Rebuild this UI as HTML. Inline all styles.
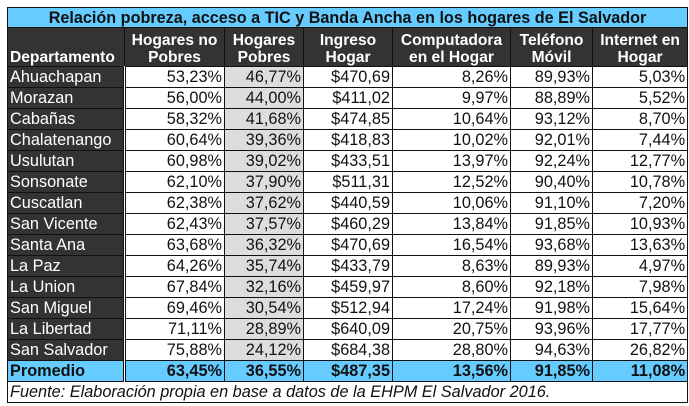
<!DOCTYPE html>
<html><head><meta charset="utf-8"><style>
body{margin:0;width:689px;height:406px;background:#fff;overflow:hidden;font-family:"Liberation Sans",sans-serif;}
table{position:absolute;left:7px;top:7px;border-collapse:collapse;table-layout:fixed;width:680px;font-size:16.3px;}
td,th{border:1px solid #111;padding:0 2px;height:20px;line-height:19px;white-space:nowrap;overflow:hidden;}
.title th{background:#66ccff;color:#111;font-size:16.2px;height:19px;line-height:18px;}
.hdr th{background:#333;color:#fff;height:38px;line-height:17px;vertical-align:bottom;font-size:15.6px;}
.hdr th.dep{text-align:left;padding-left:2px;}
td{text-align:right;background:#fff;color:#111;}
td.dep{background:#333;color:#fff;text-align:left;padding-left:2px;border-right:3px double #111;}
td.g{background:#ddd;}
.avg td{background:#66ccff;font-weight:bold;}
.avg td.dep{background:#66ccff;color:#111;}
.note td{text-align:left;font-style:italic;padding-left:2px;}
</style></head><body>
<table>
<colgroup><col style="width:117px"><col style="width:100px"><col style="width:79px"><col style="width:89px"><col style="width:118px"><col style="width:82px"><col style="width:95px"></colgroup>
<tr class="title"><th colspan="7">Relación pobreza, acceso a TIC y Banda Ancha en los hogares de El Salvador</th></tr>
<tr class="hdr">
<th class="dep">Departamento</th>
<th>Hogares no<br>Pobres</th>
<th>Hogares<br>Pobres</th>
<th>Ingreso<br>Hogar</th>
<th>Computadora<br>en el Hogar</th>
<th>Teléfono<br>Móvil</th>
<th>Internet en<br>Hogar</th>
</tr>
<tr><td class="dep">Ahuachapan</td><td>53,23%</td><td class="g">46,77%</td><td>$470,69</td><td>8,26%</td><td>89,93%</td><td>5,03%</td></tr>
<tr><td class="dep">Morazan</td><td>56,00%</td><td class="g">44,00%</td><td>$411,02</td><td>9,97%</td><td>88,89%</td><td>5,52%</td></tr>
<tr><td class="dep">Cabañas</td><td>58,32%</td><td class="g">41,68%</td><td>$474,85</td><td>10,64%</td><td>93,12%</td><td>8,70%</td></tr>
<tr><td class="dep">Chalatenango</td><td>60,64%</td><td class="g">39,36%</td><td>$418,83</td><td>10,02%</td><td>92,01%</td><td>7,44%</td></tr>
<tr><td class="dep">Usulutan</td><td>60,98%</td><td class="g">39,02%</td><td>$433,51</td><td>13,97%</td><td>92,24%</td><td>12,77%</td></tr>
<tr><td class="dep">Sonsonate</td><td>62,10%</td><td class="g">37,90%</td><td>$511,31</td><td>12,52%</td><td>90,40%</td><td>10,78%</td></tr>
<tr><td class="dep">Cuscatlan</td><td>62,38%</td><td class="g">37,62%</td><td>$440,59</td><td>10,06%</td><td>91,10%</td><td>7,20%</td></tr>
<tr><td class="dep">San Vicente</td><td>62,43%</td><td class="g">37,57%</td><td>$460,29</td><td>13,84%</td><td>91,85%</td><td>10,93%</td></tr>
<tr><td class="dep">Santa Ana</td><td>63,68%</td><td class="g">36,32%</td><td>$470,69</td><td>16,54%</td><td>93,68%</td><td>13,63%</td></tr>
<tr><td class="dep">La Paz</td><td>64,26%</td><td class="g">35,74%</td><td>$433,79</td><td>8,63%</td><td>89,93%</td><td>4,97%</td></tr>
<tr><td class="dep">La Union</td><td>67,84%</td><td class="g">32,16%</td><td>$459,97</td><td>8,60%</td><td>92,18%</td><td>7,98%</td></tr>
<tr><td class="dep">San Miguel</td><td>69,46%</td><td class="g">30,54%</td><td>$512,94</td><td>17,24%</td><td>91,98%</td><td>15,64%</td></tr>
<tr><td class="dep">La Libertad</td><td>71,11%</td><td class="g">28,89%</td><td>$640,09</td><td>20,75%</td><td>93,96%</td><td>17,77%</td></tr>
<tr><td class="dep">San Salvador</td><td>75,88%</td><td class="g">24,12%</td><td>$684,38</td><td>28,80%</td><td>94,63%</td><td>26,82%</td></tr>
<tr class="avg"><td class="dep">Promedio</td><td>63,45%</td><td>36,55%</td><td>$487,35</td><td>13,56%</td><td>91,85%</td><td>11,08%</td></tr>
<tr class="note"><td colspan="7">Fuente: Elaboración propia en base a datos de la EHPM El Salvador 2016.</td></tr>
</table>
</body></html>
